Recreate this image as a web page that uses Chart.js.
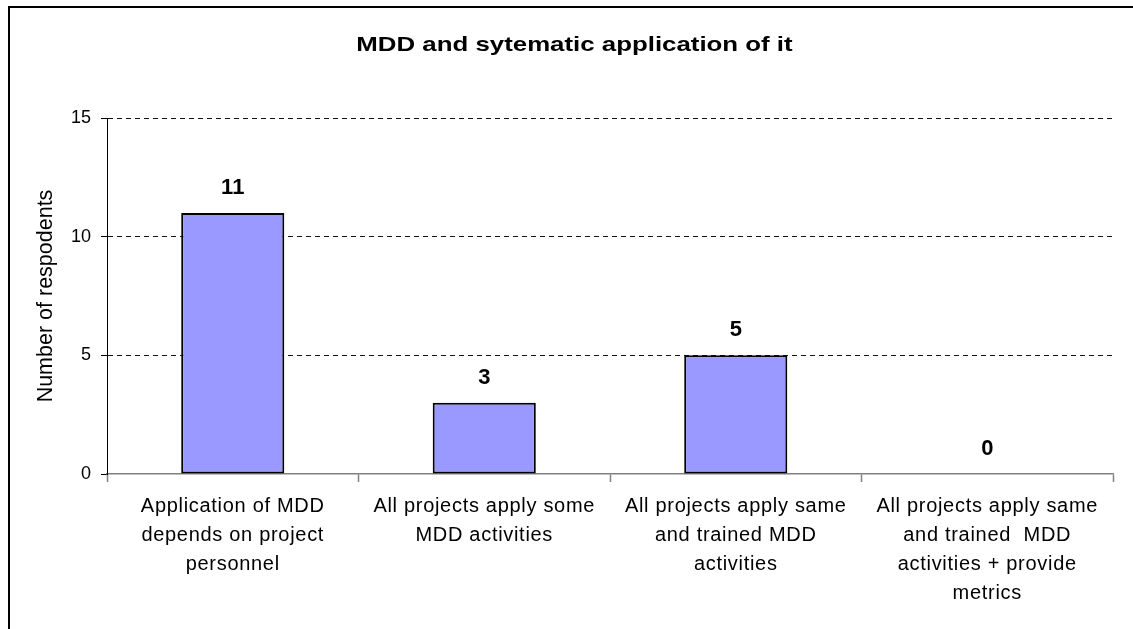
<!DOCTYPE html>
<html>
<head>
<meta charset="utf-8">
<title>MDD and sytematic application of it</title>
<script src="https://cdn.jsdelivr.net/npm/chart.js@4.4.1/dist/chart.umd.min.js"></script>
<style>
  html, body { margin: 0; padding: 0; background: #fff; overflow: hidden; }
  #wrap { position: relative; width: 1133px; height: 629px; overflow: hidden; }
  #chart { position: absolute; left: 0; top: 0; }
  /* chart frame: only the left and top edges fall inside the page */
  #frame {
    position: absolute; left: 8px; top: 6px; width: 2000px; height: 2000px;
    border-left: 2px solid #000; border-top: 2px solid #000; pointer-events: none;
  }
</style>
</head>
<body>
<div id="wrap">
  <canvas id="chart" width="1133" height="629"></canvas>
  <div id="frame"></div>
</div>
<script>
// Survey answers: how systematically MDD is applied
const categories = [
  ["Application of MDD", "depends on project", "personnel"],
  ["All projects apply some", "MDD activities"],
  ["All projects apply same", "and trained MDD", "activities"],
  ["All projects apply same", "and trained  MDD", "activities + provide", "metrics"]
];
const respondents = [11, 3, 5, 0];
const yTicks = [0, 5, 10, 15];

const chartTitle = "MDD and sytematic application of it";
const yTitle = "Number of respodents";

const FONT = "'Liberation Sans', Arial, sans-serif";
Chart.defaults.font.family = FONT;
Chart.defaults.color = "#000";

// Bold value printed above every bar
const valueLabels = {
  id: "valueLabels",
  afterDatasetsDraw(chart) {
    const ctx = chart.ctx;
    const meta = chart.getDatasetMeta(0);
    const values = chart.data.datasets[0].data;
    ctx.save();
    ctx.font = "bold 22px " + FONT;
    ctx.fillStyle = "#000";
    ctx.textAlign = "center";
    ctx.textBaseline = "middle";
    meta.data.forEach((bar, i) => {
      ctx.fillText(String(values[i]), bar.x, bar.y - 25);
    });
    ctx.restore();
  }
};

// Title set in a horizontally widened face; category labels with a touch of tracking
function wrapDraw(obj, method, setup) {
  if (!obj || obj["__wrapped_" + method]) return;
  const original = obj[method];
  obj[method] = function (...args) {
    const ctx = this.ctx;
    ctx.save();
    setup(ctx, this);
    const r = original.apply(this, args);
    ctx.restore();
    return r;
  };
  obj["__wrapped_" + method] = true;
}
const textShaping = {
  id: "textShaping",
  afterLayout(chart) {
    wrapDraw(chart.titleBlock, "draw", (ctx, box) => {
      const cx = (box.left + box.right) / 2;
      ctx.translate(cx + 18, 0);
      ctx.scale(1.23, 1);
      ctx.translate(-cx, 0);
    });
    wrapDraw(chart.scales.x, "drawLabels", (ctx) => {
      if ("letterSpacing" in ctx) ctx.letterSpacing = "0.7px";
    });
  }
};

new Chart(document.getElementById("chart"), {
  type: "bar",
  data: {
    labels: categories,
    datasets: [{
      data: respondents,
      backgroundColor: "#9999FF",
      borderColor: "#000",
      borderWidth: 2,
      borderSkipped: false,
      categoryPercentage: 1,
      barPercentage: 0.41
    }]
  },
  options: {
    responsive: false,
    animation: false,
    devicePixelRatio: 1,
    layout: { padding: { left: 0, right: 20, top: 0, bottom: 0 } },
    plugins: {
      legend: { display: false },
      tooltip: { enabled: false },
      title: {
        display: true,
        text: chartTitle,
        color: "#000",
        font: { family: FONT, size: 21, weight: "bold", lineHeight: 1.2 },
        padding: { top: 32.4, bottom: 60.4 }
      }
    },
    scales: {
      x: {
        grid: {
          display: true,
          drawOnChartArea: false,
          drawTicks: true,
          tickLength: 8,
          tickColor: "#808080",
          tickWidth: 1.5
        },
        border: { display: true, color: "#808080", width: 1.5 },
        ticks: {
          color: "#000",
          font: { family: FONT, size: 20, lineHeight: 1.45 },
          padding: 10,
          maxRotation: 0,
          minRotation: 0,
          autoSkip: false
        },
        afterFit(scale) { scale.height = 155; }
      },
      y: {
        min: 0,
        max: 15,
        afterBuildTicks(scale) { scale.ticks = yTicks.map(v => ({ value: v })); },
        grid: {
          color: (c) => (c.tick && c.tick.value === 0 ? "rgba(0,0,0,0)" : "#111"),
          lineWidth: 1,
          drawTicks: true,
          tickLength: 6,
          tickColor: "#000",
          tickWidth: 1
        },
        border: { display: true, color: "#000", width: 1, dash: [5, 4] },
        ticks: {
          color: "#000",
          font: { family: FONT, size: 18 },
          padding: 10
        },
        title: {
          display: true,
          text: yTitle,
          color: "#000",
          font: { family: FONT, size: 21.5 },
          padding: { top: 33, bottom: 0 }
        },
        afterFit(scale) { scale.width = 107; }
      }
    }
  },
  plugins: [textShaping, valueLabels]
});
</script>
</body>
</html>
